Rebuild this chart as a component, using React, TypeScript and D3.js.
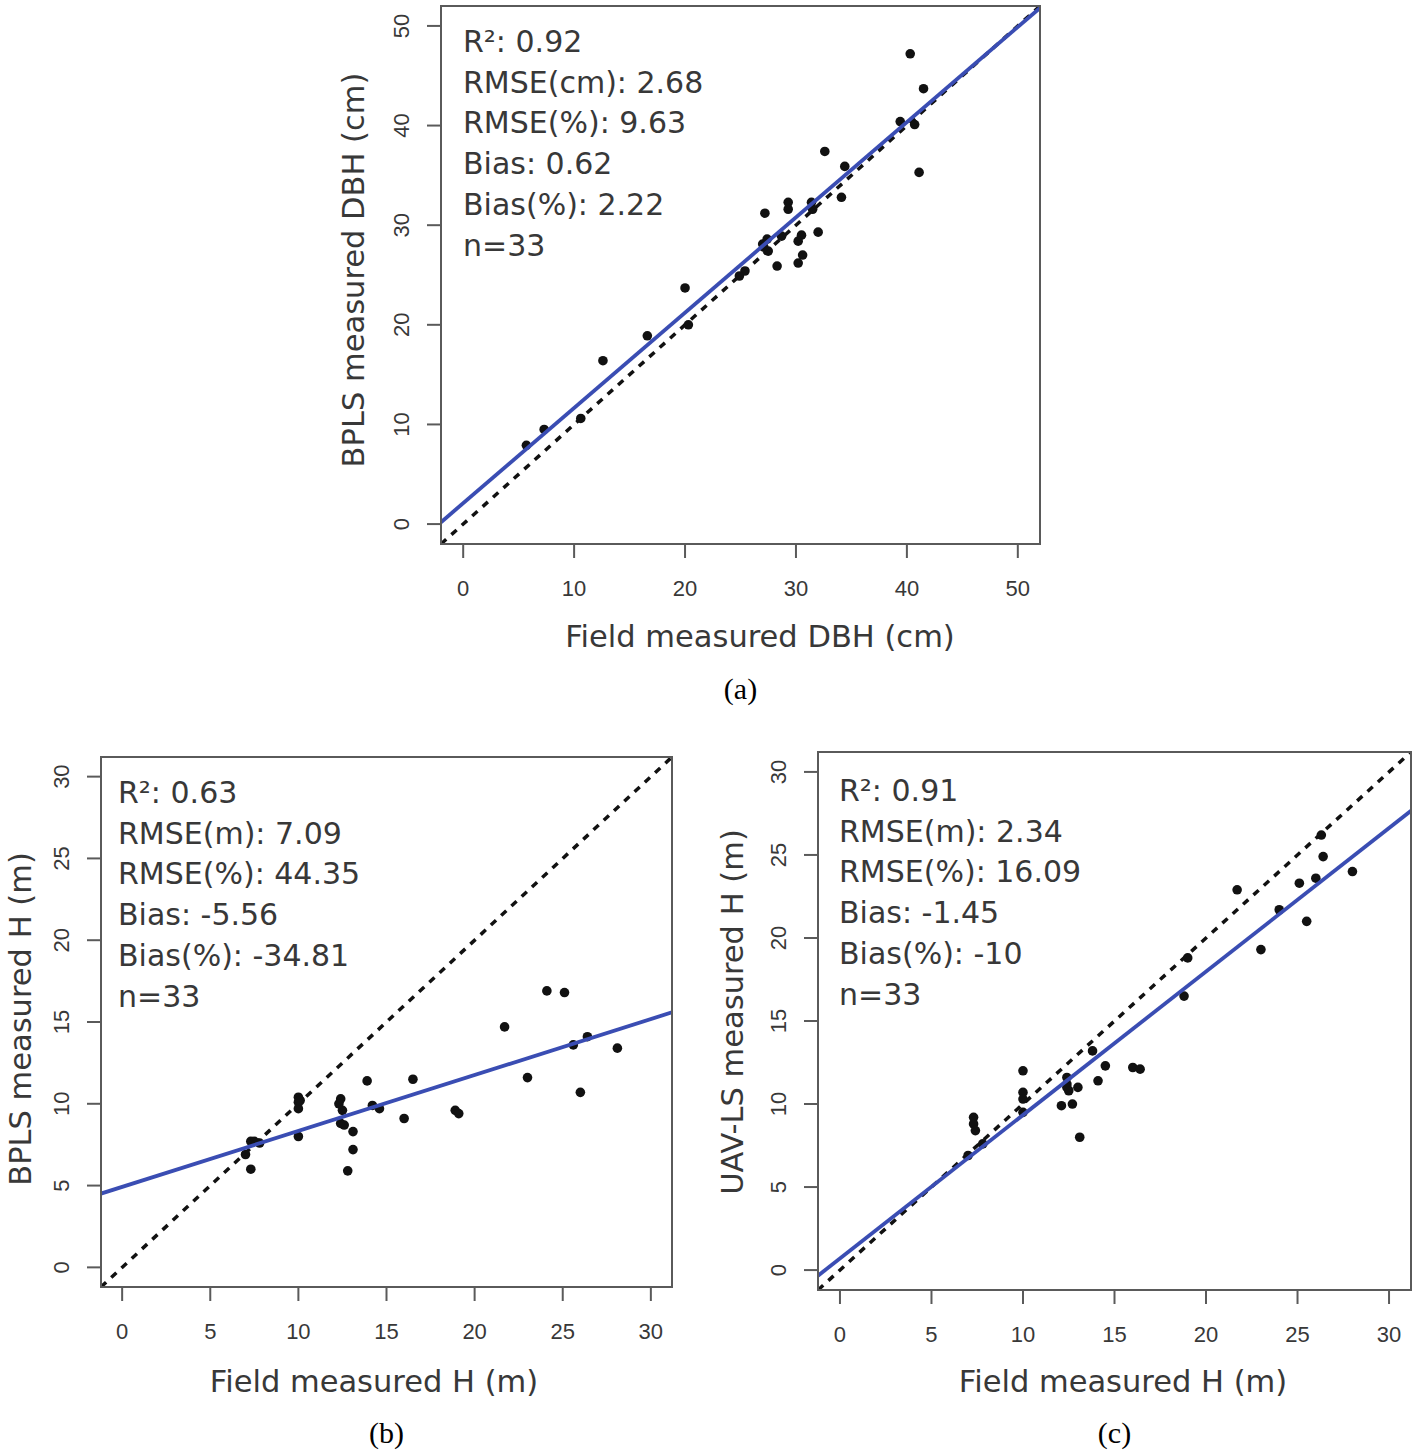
import React from "react";
import * as d3 from "d3";

// ---------- data ----------
const dbhField = [40.3, 41.5, 39.4, 40.7, 32.6, 34.4, 41.1, 34.1, 29.3, 29.3, 31.4, 31.5, 27.2, 32.0, 30.5, 30.2, 27.4, 27.0, 27.5, 28.7, 28.3, 30.6, 30.2, 25.4, 24.9, 20.0, 20.3, 16.6, 12.6, 10.6, 7.3, 5.7, 27.1];
const dbhBpls = [47.2, 43.7, 40.4, 40.1, 37.4, 35.9, 35.3, 32.8, 32.3, 31.6, 32.3, 31.6, 31.2, 29.3, 29.0, 28.4, 28.6, 28.1, 27.4, 28.9, 25.9, 27.0, 26.2, 25.4, 24.9, 23.7, 20.0, 18.9, 16.4, 10.6, 9.5, 7.9, 27.8];

const hFieldB = [24.1, 25.1, 21.7, 26.4, 25.6, 28.1, 23.0, 26.0, 16.5, 13.9, 18.9, 19.1, 16.0, 14.2, 14.6, 12.4, 12.5, 12.4, 12.6, 13.1, 13.1, 12.8, 10.0, 10.0, 10.0, 10.0, 7.3, 7.8, 7.0, 7.3, 12.3, 10.1, 7.5];
const hBplsB = [16.9, 16.8, 14.7, 14.1, 13.6, 13.4, 11.6, 10.7, 11.5, 11.4, 9.6, 9.4, 9.1, 9.9, 9.7, 10.3, 9.6, 8.8, 8.7, 8.3, 7.2, 5.9, 10.4, 10.1, 9.7, 8.0, 7.7, 7.6, 6.9, 6.0, 10.0, 10.2, 7.7];

const hFieldC = [26.3, 26.4, 21.7, 25.1, 26.0, 28.0, 24.0, 25.5, 23.0, 19.0, 18.8, 13.8, 14.5, 16.0, 16.4, 14.1, 13.0, 12.4, 12.4, 12.5, 12.1, 12.7, 13.1, 10.0, 10.0, 10.0, 10.0, 7.3, 7.3, 7.4, 7.8, 7.0, 12.4];
const hUavC = [26.2, 24.9, 22.9, 23.3, 23.6, 24.0, 21.7, 21.0, 19.3, 18.8, 16.5, 13.2, 12.3, 12.2, 12.1, 11.4, 11.0, 11.6, 11.2, 10.8, 9.9, 10.0, 8.0, 12.0, 10.7, 10.3, 9.5, 9.2, 8.8, 8.4, 7.6, 6.9, 11.0];

// regression fits: [intercept, slope]
const fitA = [2.1, 0.956];
const fitB = [4.92, 0.342];
const fitC = [0.7, 0.864];

const ticksA = [0, 10, 20, 30, 40, 50];
const ticksH = [0, 5, 10, 15, 20, 25, 30];

const statsA = ["R²: 0.92", "RMSE(cm): 2.68", "RMSE(%): 9.63", "Bias: 0.62", "Bias(%): 2.22", "n=33"];
const statsB = ["R²: 0.63", "RMSE(m): 7.09", "RMSE(%): 44.35", "Bias: -5.56", "Bias(%): -34.81", "n=33"];
const statsC = ["R²: 0.91", "RMSE(m): 2.34", "RMSE(%): 16.09", "Bias: -1.45", "Bias(%): -10", "n=33"];

// ---------- drawing ----------
const SANS = "'DejaVu Sans', 'Noto Sans', sans-serif";
const TICKFONT = "'Liberation Sans', Arial, sans-serif";
const SERIF = "'Liberation Serif', 'Times New Roman', serif";
const AXIS = "#5a5a5a";
const TEXT = "#383838";
const BLUE = "#3a4db3";

type PanelProps = {
  id: string;
  box: { x0: number; x1: number; y0: number; y1: number };
  domain: [number, number];
  ticks: number[];
  xs: number[];
  ys: number[];
  fit: number[];
  stats: string[];
  statDx: number;
  statDy: number;
  xTitle: string;
  yTitle: string;
  caption: string;
  xTitleX: number;
  xTitleY: number;
  yTitleX: number;
  yTitleY: number;
  captionY: number;
};

function Panel(p: PanelProps) {
  const { box, domain } = p;
  const x = d3.scaleLinear().domain(domain).range([box.x0, box.x1]);
  const y = d3.scaleLinear().domain(domain).range([box.y1, box.y0]);
  const line = d3
    .line<[number, number]>()
    .x((d) => x(d[0]))
    .y((d) => y(d[1]));
  const diag: [number, number][] = [
    [domain[0], domain[0]],
    [domain[1], domain[1]],
  ];
  const reg: [number, number][] = [domain[0], domain[1]].map((v) => [v, p.fit[0] + p.fit[1] * v]) as [number, number][];
  const cx = (box.x0 + box.x1) / 2;
  const clipId = "clip-" + p.id;
  return (
    <g>
      <defs>
        <clipPath id={clipId}>
          <rect x={box.x0} y={box.y0} width={box.x1 - box.x0} height={box.y1 - box.y0} />
        </clipPath>
      </defs>
      <g clipPath={`url(#${clipId})`}>
        <path d={line(diag) || ""} stroke="#111" strokeWidth={3.5} strokeDasharray="7,7" fill="none" />
        {p.xs.map((v, i) => (
          <circle key={i} cx={x(v)} cy={y(p.ys[i])} r={4.8} fill="#111" />
        ))}
        <path d={line(reg) || ""} stroke={BLUE} strokeWidth={3.8} fill="none" />
      </g>
      <rect
        x={box.x0}
        y={box.y0}
        width={box.x1 - box.x0}
        height={box.y1 - box.y0}
        fill="none"
        stroke={AXIS}
        strokeWidth={2}
      />
      {p.ticks.map((t) => (
        <g key={"x" + t}>
          <line x1={x(t)} x2={x(t)} y1={box.y1} y2={box.y1 + 14} stroke={AXIS} strokeWidth={2} />
          <text x={x(t)} y={box.y1 + 52} textAnchor="middle" fontFamily={TICKFONT} fontSize={22} fill={TEXT}>
            {t}
          </text>
        </g>
      ))}
      {p.ticks.map((t) => (
        <g key={"y" + t}>
          <line x1={box.x0 - 14} x2={box.x0} y1={y(t)} y2={y(t)} stroke={AXIS} strokeWidth={2} />
          <text
            transform={`translate(${box.x0 - 32},${y(t)}) rotate(-90)`}
            textAnchor="middle"
            fontFamily={TICKFONT}
            fontSize={22}
            fill={TEXT}
          >
            {t}
          </text>
        </g>
      ))}
      {p.stats.map((s, i) => (
        <text
          key={s}
          x={box.x0 + p.statDx}
          y={box.y0 + p.statDy + i * 40.7}
          fontFamily={SANS}
          fontSize={30}
          fill={TEXT}
        >
          {s}
        </text>
      ))}
      <text x={p.xTitleX} y={p.xTitleY} textAnchor="middle" fontFamily={SANS} fontSize={30.5} fill={TEXT}>
        {p.xTitle}
      </text>
      <text
        transform={`translate(${p.yTitleX},${p.yTitleY}) rotate(-90)`}
        textAnchor="middle"
        fontFamily={SANS}
        fontSize={30.5}
        fill={TEXT}
      >
        {p.yTitle}
      </text>
      <text x={cx} y={p.captionY} textAnchor="middle" fontFamily={SERIF} fontSize={30} fill="#000">
        {p.caption}
      </text>
    </g>
  );
}

export default function App() {
  return (
    <svg
      width={1416}
      height={1451}
      style={{ position: "absolute", left: 0, top: 0, background: "#fff" }}
    >
      <rect width={1416} height={1451} fill="#fff" />
      <Panel
        id="a"
        box={{ x0: 441, x1: 1040, y0: 6, y1: 544 }}
        domain={[-2, 52]}
        ticks={ticksA}
        xs={dbhField}
        ys={dbhBpls}
        fit={fitA}
        stats={statsA}
        statDx={22}
        statDy={46}
        xTitle="Field measured DBH (cm)"
        yTitle="BPLS measured DBH (cm)"
        caption="(a)"
        xTitleX={760}
        xTitleY={647}
        yTitleX={364}
        yTitleY={270}
        captionY={699}
      />
      <Panel
        id="b"
        box={{ x0: 101, x1: 672, y0: 757, y1: 1287 }}
        domain={[-1.2, 31.2]}
        ticks={ticksH}
        xs={hFieldB}
        ys={hBplsB}
        fit={fitB}
        stats={statsB}
        statDx={17}
        statDy={46}
        xTitle="Field measured H (m)"
        yTitle="BPLS measured  H (m)"
        caption="(b)"
        xTitleX={374}
        xTitleY={1392}
        yTitleX={31}
        yTitleY={1019}
        captionY={1443}
      />
      <Panel
        id="c"
        box={{ x0: 818, x1: 1411, y0: 752, y1: 1290 }}
        domain={[-1.2, 31.2]}
        ticks={ticksH}
        xs={hFieldC}
        ys={hUavC}
        fit={fitC}
        stats={statsC}
        statDx={21}
        statDy={49}
        xTitle="Field measured H (m)"
        yTitle="UAV-LS measured  H (m)"
        caption="(c)"
        xTitleX={1123}
        xTitleY={1392}
        yTitleX={743}
        yTitleY={1012}
        captionY={1443}
      />
    </svg>
  );
}
